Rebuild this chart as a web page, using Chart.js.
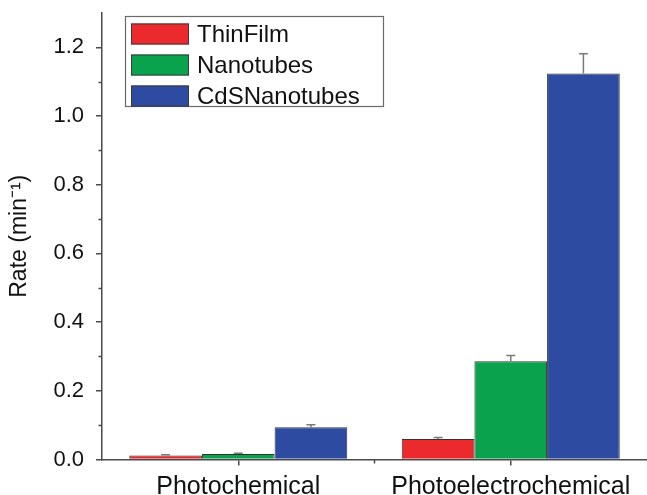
<!DOCTYPE html>
<html>
<head>
<meta charset="utf-8">
<script src="https://cdn.jsdelivr.net/npm/chart.js@4.4.1/dist/chart.umd.min.js"></script>
<style>
  html, body { margin: 0; padding: 0; background: #ffffff; overflow: hidden; }
  #wrap { width: 647px; height: 495px; position: relative; }
</style>
</head>
<body>
<div id="wrap"><canvas id="c" width="647" height="495"></canvas></div>
<script>
// ---- data ----
const categories = ['Photochemical', 'Photoelectrochemical'];
const seriesNames = ['ThinFilm', 'Nanotubes', 'CdSNanotubes'];
const thinFilm = [0.012, 0.060];
const nanotubes = [0.016, 0.286];
const cdsNanotubes = [0.094, 1.124];
const thinFilmErr = [0.002, 0.004];
const nanotubesErr = [0.002, 0.017];
const cdsNanotubesErr = [0.007, 0.057];
const yTickValues = [0, 0.2, 0.4, 0.6, 0.8, 1.0, 1.2];
const yMinorTickValues = [0.1, 0.3, 0.5, 0.7, 0.9, 1.1];
const xMinorTickValues = [0.5];
const yTitle = 'Rate (min\u207B\u00B9)';

const colors = ['#EC2A2E', '#0BA24E', '#2E4BA2'];
const axisColor = '#4a4a4a';
const FONT = "'Liberation Sans', Arial, sans-serif";

const errs = [thinFilmErr, nanotubesErr, cdsNanotubesErr];

const errorBarPlugin = {
  id: 'errorBars',
  afterDatasetsDraw(chart) {
    const ctx = chart.ctx;
    const y = chart.scales.y;
    ctx.save();
    ctx.strokeStyle = '#7a7a7a';
    ctx.lineWidth = 1.5;
    chart.data.datasets.forEach((ds, di) => {
      const meta = chart.getDatasetMeta(di);
      meta.data.forEach((bar, i) => {
        const v = ds.data[i];
        const e = errs[di][i];
        const x = bar.x;
        const y0 = y.getPixelForValue(v);
        const y1 = y.getPixelForValue(v + e);
        ctx.beginPath();
        ctx.moveTo(x, y0);
        ctx.lineTo(x, y1);
        ctx.moveTo(x - 4.5, y1);
        ctx.lineTo(x + 4.5, y1);
        ctx.stroke();
      });
    });
    ctx.restore();
  }
};

const minorTickPlugin = {
  id: 'minorTicks',
  afterDraw(chart) {
    const ctx = chart.ctx;
    const y = chart.scales.y, x = chart.scales.x;
    const area = chart.chartArea;
    ctx.save();
    ctx.strokeStyle = axisColor;
    ctx.lineWidth = 1.5;
    yMinorTickValues.forEach(v => {
      const py = Math.round(y.getPixelForValue(v)) + 0.5;
      ctx.beginPath();
      ctx.moveTo(area.left - 3.5, py);
      ctx.lineTo(area.left, py);
      ctx.stroke();
    });
    xMinorTickValues.forEach(v => {
      const p0 = x.getPixelForValue(0), p1 = x.getPixelForValue(1);
      const px = p0 + (p1 - p0) * v;
      ctx.beginPath();
      ctx.moveTo(px, area.bottom);
      ctx.lineTo(px, area.bottom + 4);
      ctx.stroke();
    });
    ctx.restore();
  }
};

const legendPlugin = {
  id: 'boxLegend',
  afterDraw(chart) {
    const ctx = chart.ctx;
    const area = chart.chartArea;
    const left = area.left + 23, top = area.top + 3;
    const w = 258, h = 90;
    ctx.save();
    ctx.fillStyle = '#ffffff';
    ctx.fillRect(left, top, w, h);
    ctx.strokeStyle = '#6a6a6a';
    ctx.lineWidth = 1.2;
    ctx.strokeRect(left + 0.5, top + 0.5, w, h);
    ctx.font = '24px ' + FONT;
    ctx.textBaseline = 'middle';
    chart.data.datasets.forEach((ds, i) => {
      const cy = top + 18 + i * 31;
      ctx.fillStyle = ds.backgroundColor;
      ctx.fillRect(left + 6, cy - 10.5, 58, 21);
      ctx.strokeStyle = '#3a3a3a';
      ctx.lineWidth = 1;
      ctx.strokeRect(left + 6.5, cy - 10, 57, 20);
      ctx.fillStyle = '#111111';
      ctx.fillText(ds.label, left + 72, cy + 1);
    });
    ctx.restore();
  }
};

const dataSets = [thinFilm, nanotubes, cdsNanotubes];

new Chart(document.getElementById('c'), {
  type: 'bar',
  data: {
    labels: categories,
    datasets: seriesNames.map((name, i) => ({
      label: name,
      data: dataSets[i],
      backgroundColor: colors[i],
      borderColor: '#333333',
      borderWidth: 1,
      categoryPercentage: 0.8,
      barPercentage: 1.0
    }))
  },
  options: {
    responsive: false,
    animation: false,
    devicePixelRatio: 1,
    layout: { padding: { top: 13, right: 0, left: 0, bottom: 0 } },
    plugins: { legend: { display: false }, tooltip: { enabled: false } },
    scales: {
      x: {
        offset: true,
        grid: { display: true, drawOnChartArea: false, offset: false, drawTicks: true, tickLength: 6, color: axisColor, lineWidth: 1.5 },
        border: { display: true, color: axisColor, width: 1.5 },
        ticks: { color: '#111111', font: { family: FONT, size: 25 }, padding: 7, maxRotation: 0, autoSkip: false },
        afterFit(scale) { scale.height = 35.5; scale.paddingLeft = 0; scale.paddingRight = 0; }
      },
      y: {
        min: 0,
        max: 1.3,
        afterBuildTicks(scale) { scale.ticks = yTickValues.map(v => ({ value: v })); },
        grid: { display: true, drawOnChartArea: false, drawTicks: true, tickLength: 6, color: axisColor, lineWidth: 1.5 },
        border: { display: true, color: axisColor, width: 1.5 },
        ticks: { color: '#111111', font: { family: FONT, size: 22 }, padding: 12, callback: v => Number(v).toFixed(1) },
        title: { display: true, text: yTitle, color: '#111111', font: { family: FONT, size: 23 }, padding: { top: 6, bottom: 0 } },
        afterFit(scale) { scale.width = 102; scale.paddingTop = 0; scale.paddingBottom = 0; }
      }
    }
  },
  plugins: [errorBarPlugin, minorTickPlugin, legendPlugin]
});
</script>
</body>
</html>
